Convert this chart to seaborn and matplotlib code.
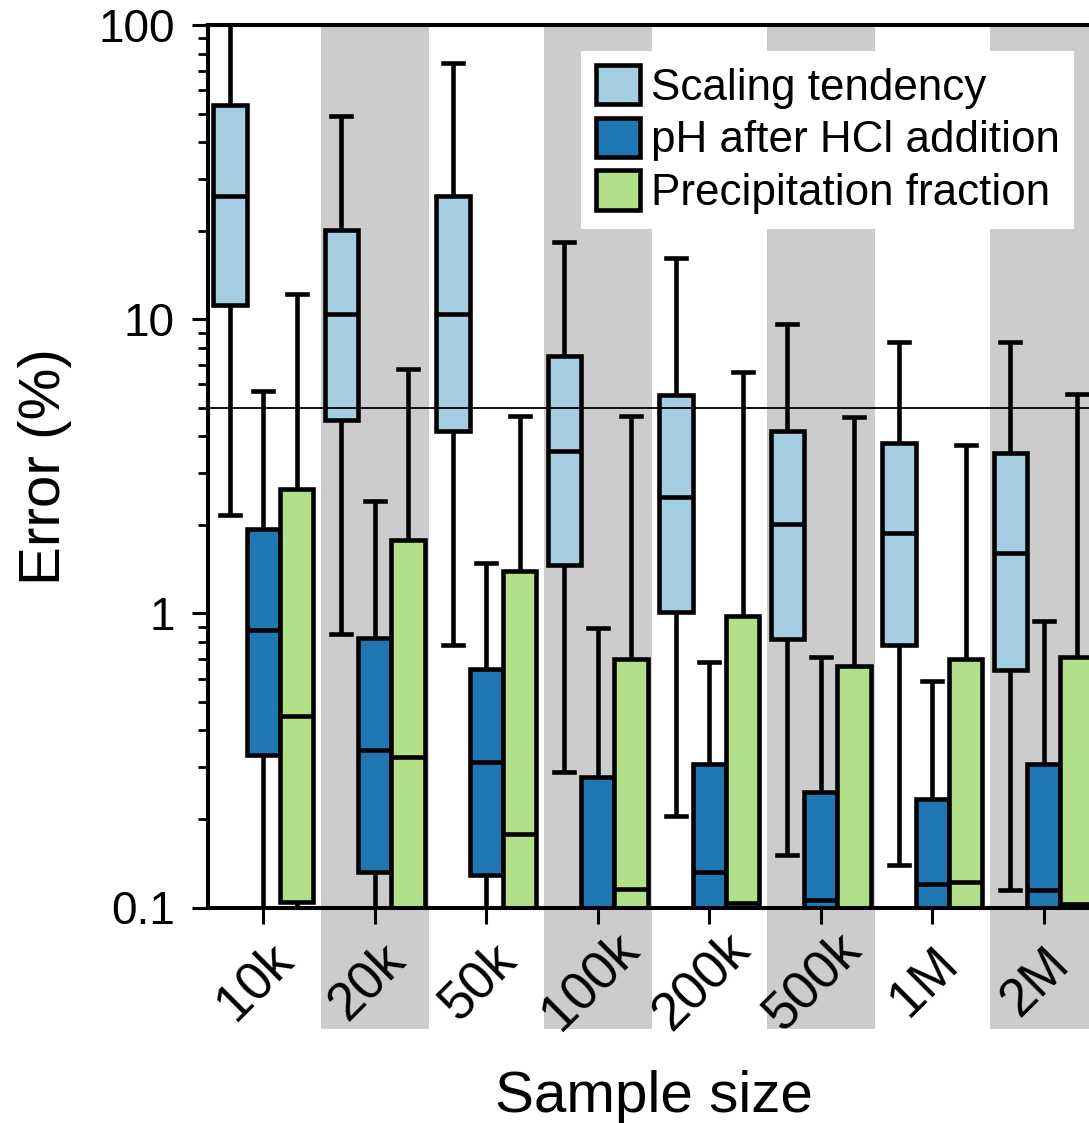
import numpy as np
import pandas as pd
import matplotlib
matplotlib.use("Agg")
import matplotlib.pyplot as plt
import matplotlib.transforms as mtransforms
from matplotlib.patches import Patch
from matplotlib.ticker import LogLocator, NullFormatter
import seaborn as sns

plt.rcParams['font.family'] = ['Liberation Sans', 'DejaVu Sans']

sizes = ["10k", "20k", "50k", "100k", "200k", "500k", "1M", "2M"]
metrics = ["Scaling tendency", "pH after HCl addition", "Precipitation fraction"]
colors = ["#a6cee3", "#1f78b4", "#b2df8a"]

# five-number summaries (whisker low, Q1, median, Q3, whisker high), error in %
scaling_lo  = [2.16, 0.85, 0.78, 0.289, 0.205, 0.151, 0.140, 0.115]
scaling_q1  = [11.2, 4.54, 4.17, 1.46, 1.01, 0.816, 0.783, 0.640]
scaling_med = [26.2, 10.4, 10.4, 3.56, 2.48, 2.02, 1.87, 1.60]
scaling_q3  = [53.3, 20.1, 26.2, 7.49, 5.53, 4.17, 3.79, 3.50]
scaling_hi  = [130.0, 49.0, 74.5, 18.3, 16.1, 9.6, 8.36, 8.36]

ph_lo  = [0.05, 0.05, 0.05, 0.02, 0.03, 0.03, 0.03, 0.03]
ph_q1  = [0.331, 0.1316, 0.1288, 0.04, 0.06, 0.06, 0.06, 0.06]
ph_med = [0.877, 0.343, 0.313, 0.07, 0.1317, 0.106, 0.1206, 0.1146]
ph_q3  = [1.94, 0.822, 0.649, 0.278, 0.308, 0.246, 0.234, 0.308]
ph_hi  = [5.68, 2.40, 1.48, 0.89, 0.685, 0.708, 0.587, 0.939]

prec_lo  = [0.099, 0.05, 0.05, 0.05, 0.05, 0.03, 0.05, 0.05]
prec_q1  = [0.104, 0.08, 0.08, 0.08, 0.08, 0.05, 0.08, 0.08]
prec_med = [0.449, 0.324, 0.178, 0.1157, 0.1033, 0.08, 0.122, 0.103]
prec_q3  = [2.65, 1.78, 1.39, 0.700, 0.977, 0.663, 0.700, 0.713]
prec_hi  = [12.2, 6.75, 4.70, 4.70, 6.63, 4.64, 3.74, 5.57]

summaries = {
    metrics[0]: [scaling_lo, scaling_q1, scaling_med, scaling_q3, scaling_hi],
    metrics[1]: [ph_lo, ph_q1, ph_med, ph_q3, ph_hi],
    metrics[2]: [prec_lo, prec_q1, prec_med, prec_q3, prec_hi],
}
rows = []
for m, stats in summaries.items():
    for i, s in enumerate(sizes):
        for arr in stats:
            rows.append({"size": s, "metric": m, "error": arr[i]})
df = pd.DataFrame(rows)

W, H = 1089, 1123
fig = plt.figure(figsize=(W / 100, H / 100), dpi=100)
ax = fig.add_axes([207.5 / W, 215.5 / H, 892 / W, 882.5 / H])

sns.boxplot(data=df, x="size", y="error", hue="metric", order=sizes,
            hue_order=metrics, palette=colors, saturation=1, width=0.9,
            gap=0, whis=(0, 100), linewidth=3.3, linecolor="black",
            log_scale=True, capwidths=0.18, legend=False, ax=ax)

for i in range(1, len(sizes), 2):
    ax.axvspan(i - 0.485, i + 0.485, ymin=-0.138, ymax=1, color="#cccccc",
               zorder=0, clip_on=False, lw=0)
ax.axhline(5, color="black", lw=1.3, zorder=5)

ax.set_xlim(-0.5, 7.5)
ax.set_ylim(0.1, 100)

for side in ["left", "bottom", "top"]:
    ax.spines[side].set_linewidth(2.9)
ax.spines["right"].set_visible(False)

ax.set_yticks([0.1, 1, 10, 100])
ax.set_yticklabels(["0.1", "1", "10", "100"])
ax.yaxis.set_minor_locator(LogLocator(base=10, subs=np.arange(2, 10)))
ax.yaxis.set_minor_formatter(NullFormatter())
ax.tick_params(axis="y", which="major", length=11.5, width=2.2,
               labelsize=33, pad=12, direction="out")
ax.tick_params(axis="y", which="minor", length=7, width=2, direction="out")
ax.set_xticks(range(len(sizes)))
ax.set_xticklabels(sizes, rotation=45, ha="center", va="center")
ax.tick_params(axis="x", length=11.5, width=2.2, labelsize=38, pad=42,
               direction="out")
shift = mtransforms.ScaledTranslation(-8 / 100, 0, fig.dpi_scale_trans)
for lbl in ax.get_xticklabels():
    lbl.set_transform(lbl.get_transform() + shift)

ax.set_xlabel("Sample size", fontsize=42)
ax.xaxis.set_label_coords(0.5, -0.184)
ax.set_ylabel("Error (%)", fontsize=42)
ax.yaxis.set_label_coords(-0.152, 0.5)

handles = [Patch(facecolor=c, edgecolor="black", linewidth=3.3, label=m)
           for c, m in zip(colors, metrics)]
leg = ax.legend(handles=handles, loc="upper right", fontsize=31.7,
                frameon=True, fancybox=False, framealpha=1,
                facecolor="white", edgecolor="white", borderaxespad=0.58,
                handlelength=1.0, handleheight=1.0, handletextpad=0.25,
                borderpad=0.33, labelspacing=0.2)
leg.get_frame().set_linewidth(0)

fig.savefig("out.png", dpi=100)
